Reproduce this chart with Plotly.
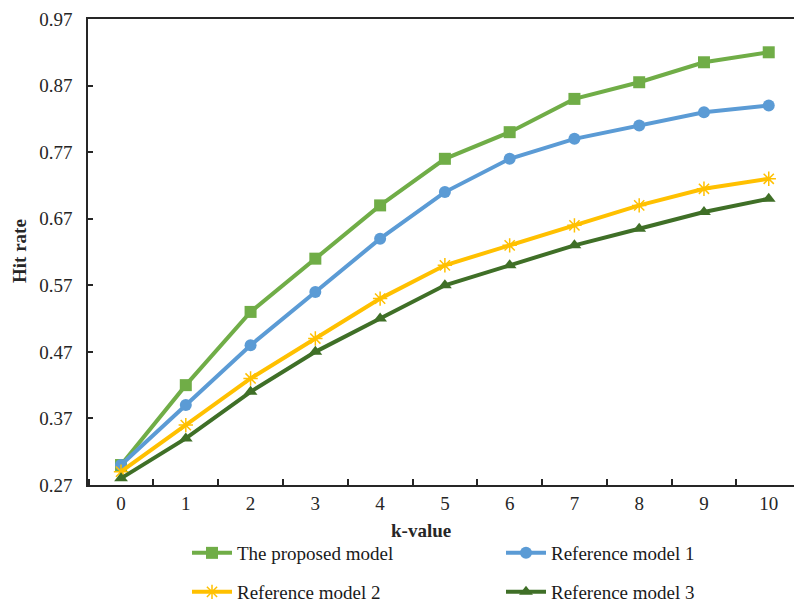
import plotly.graph_objects as go

k_values = [0, 1, 2, 3, 4, 5, 6, 7, 8, 9, 10]
proposed = [0.30, 0.42, 0.53, 0.61, 0.69, 0.76, 0.80, 0.85, 0.875, 0.905, 0.92]
ref1 = [0.30, 0.39, 0.48, 0.56, 0.64, 0.71, 0.76, 0.79, 0.81, 0.83, 0.84]
ref2 = [0.29, 0.36, 0.43, 0.49, 0.55, 0.60, 0.63, 0.66, 0.69, 0.715, 0.73]
ref3 = [0.28, 0.34, 0.41, 0.47, 0.52, 0.57, 0.60, 0.63, 0.655, 0.68, 0.70]
y_ticks = [0.27, 0.37, 0.47, 0.57, 0.67, 0.77, 0.87, 0.97]
y_tick_labels = ["0.27", "0.37", "0.47", "0.57", "0.67", "0.77", "0.87", "0.97"]

FONT = "Liberation Serif"
# name, values, colour, marker, legend id, legend position (container px: left, centre y)
series = [
    ("The proposed model", proposed, "#70AD47", dict(symbol="square", size=12), "legend", (187, 553)),
    ("Reference model 1", ref1, "#5B9BD5", dict(symbol="circle", size=12), "legend2", (501, 553)),
    ("Reference model 2", ref2, "#FFC000", dict(symbol="asterisk-open", size=12, line=dict(width=1.5, color="#FFC000")), "legend3", (187, 592)),
    ("Reference model 3", ref3, "#3F6F27", dict(symbol="triangle-up", size=12), "legend4", (501, 592)),
]

W, H = 794, 604
fig = go.Figure()
legends = {}
for name, vals, color, marker, lg, (lx, ly) in series:
    fig.add_trace(go.Scatter(
        x=k_values, y=vals, name=name, mode="lines+markers",
        line=dict(color=color, width=4),
        marker=dict(color=color, **marker),
        legend=lg,
    ))
    legends[lg] = dict(
        xref="container", yref="container",
        x=lx / W, y=1 - ly / H, xanchor="left", yanchor="middle",
        orientation="h", itemwidth=40, bgcolor="rgba(0,0,0,0)",
        font=dict(family=FONT, size=19, color="#1a1a1a"),
        itemclick=False,
    )

axis_color = "#262626"
fig.update_layout(
    width=W, height=H,
    margin=dict(l=88, r=0, t=19, b=119),
    paper_bgcolor="white", plot_bgcolor="white",
    font=dict(family=FONT, size=19, color=axis_color),
    showlegend=True,
    **legends,
    xaxis=dict(
        range=[-0.51, 10.39], tickvals=k_values, ticks="", showgrid=False,
        zeroline=False, showline=True, linecolor=axis_color, linewidth=1.5,
        mirror=True, automargin=False,
        tickfont=dict(family=FONT, size=19, color=axis_color),
        minor=dict(tick0=0.5, dtick=1, ticks="inside", ticklen=6,
                   tickcolor=axis_color, tickwidth=1.5, showgrid=False),
    ),
    yaxis=dict(
        range=[0.27, 0.97], tickvals=y_ticks, ticktext=y_tick_labels,
        ticks="inside", ticklen=5, tickcolor=axis_color, tickwidth=1.5,
        showgrid=False, zeroline=False, showline=True, linecolor=axis_color,
        linewidth=1.5, ticklabelstandoff=10, automargin=False,
        tickfont=dict(family=FONT, size=19, color=axis_color),
    ),
    annotations=[
        dict(text="<b>k-value</b>", xref="paper", yref="paper",
             x=(421 - 88) / 706, y=-(530 - 485) / 466, xanchor="center", yanchor="middle",
             showarrow=False, font=dict(family=FONT, size=19, color=axis_color)),
        dict(text="<b>Hit rate</b>", xref="paper", yref="paper",
             x=-(88 - 20) / 706, y=(485 - 251) / 466, xanchor="center", yanchor="middle",
             textangle=-90, showarrow=False, font=dict(family=FONT, size=19, color=axis_color)),
    ],
)

fig.write_html(
    "out.html",
    config={"displayModeBar": False},
    post_script="document.body.style.margin='0';document.body.style.overflow='hidden';",
)
